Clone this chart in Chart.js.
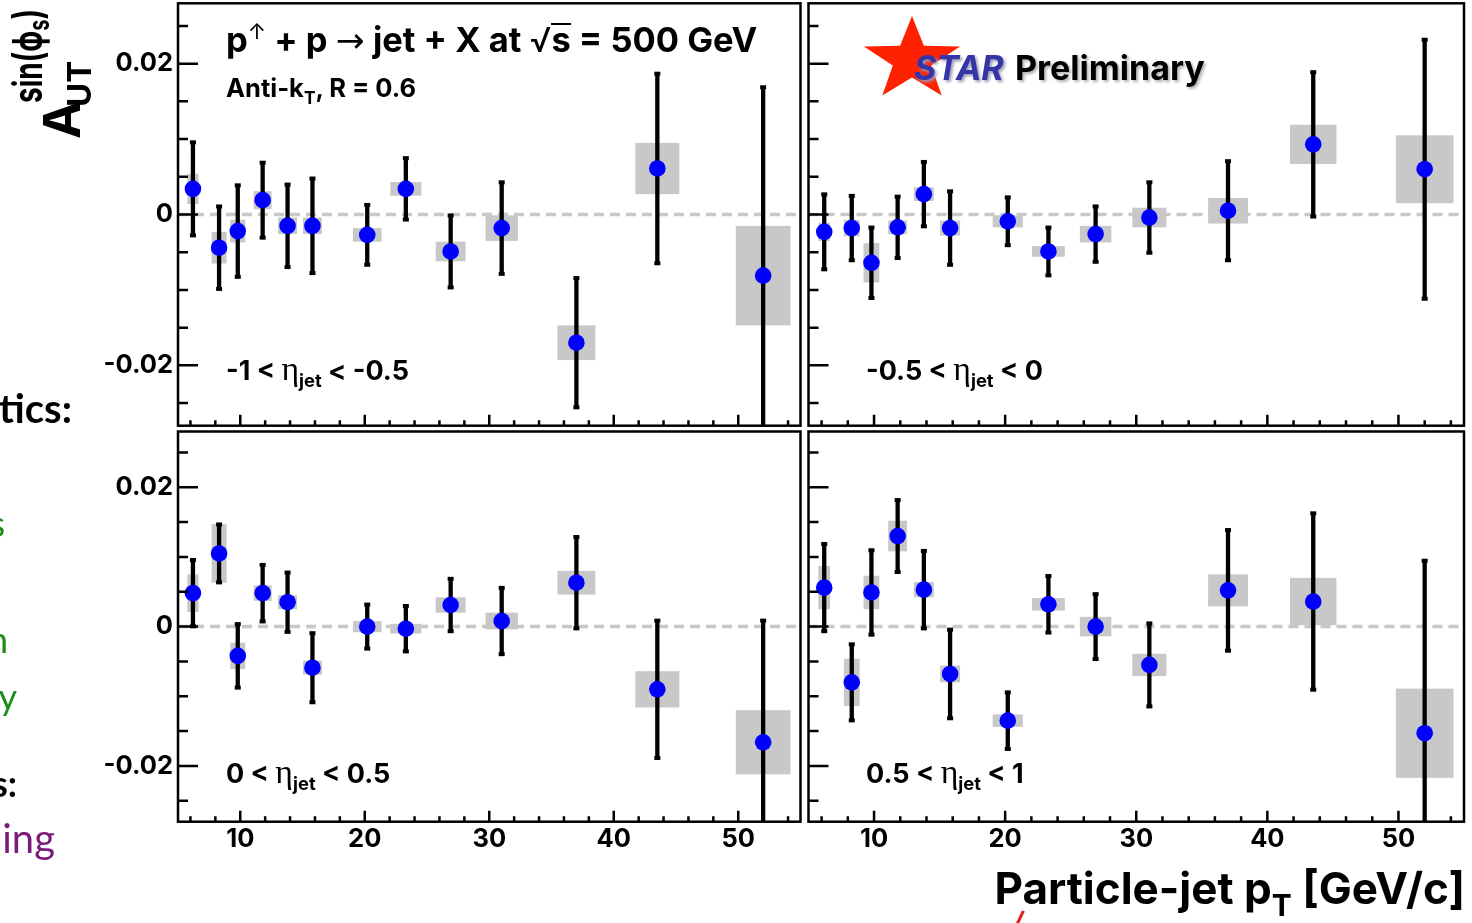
<!DOCTYPE html>
<html>
<head>
<meta charset="utf-8">
<script src="https://cdn.jsdelivr.net/npm/chart.js@4.4.1/dist/chart.umd.min.js"></script>
<style>
html, body { margin: 0; padding: 0; background: #fff; }
#stage { position: relative; width: 1472px; height: 923px; overflow: hidden; background: #fff; }
canvas { position: absolute; }
.t { position: absolute; white-space: nowrap; line-height: 1; font-family: Inter, "Liberation Sans", sans-serif; font-weight: 700; color: #000; }
.t sub { font-size: 0.68em; vertical-align: -0.4em; line-height: 0; }
.eta { font-family: "Liberation Serif", "DejaVu Serif", serif; font-weight: 400; font-size: 1.25em; }
.frag { position: absolute; white-space: nowrap; line-height: 1; font-family: Lato, "Open Sans", sans-serif; text-align: right; }
#ytitle { position: absolute; left: 0; top: 140px; width: 150px; height: 100px; transform-origin: 0 0; transform: rotate(-90deg); }
#ytitle span.p { position: absolute; white-space: nowrap; line-height: 1; font-family: Inter, "Liberation Sans", sans-serif; font-weight: 700; }
</style>
</head>
<body>
<div id="stage">
  <canvas id="p1"></canvas>
  <canvas id="p2"></canvas>
  <canvas id="p3"></canvas>
  <canvas id="p4"></canvas>

  <div id="ytitle">
    <span class="p" style="font-size:51px; left:1px; top:36px;">A</span>
    <span class="p" style="font-size:33px; left:33px; top:63px;">UT</span>
    <span class="p" style="font-size:28px; left:37px; top:18px; transform-origin:0 24px; transform:scale(1,1.45);">sin(&#981;<sub style="font-size:20px; vertical-align:-5px; line-height:0;">s</sub>)</span>
  </div>

  <div class="t" style="left:226px; top:20px; font-size:34.5px;">p<span style="font-size:22px; font-weight:400; vertical-align:13px;">&uarr;</span> + p <span style="font-weight:400; font-family:'DejaVu Sans';">&rarr;</span> jet + X at <span style="font-weight:400;">&radic;</span><span style="display:inline-block; border-top:2px solid #000; line-height:0.8; padding-top:1px;">s</span> = 500 GeV</div>
  <div class="t" style="left:226px; top:75px; font-size:25.5px;">Anti-k<sub>T</sub>, R = 0.6</div>

  <svg style="position:absolute; left:0; top:0;" width="1472" height="140">
    <polygon id="star" fill="#ff2200"></polygon>
  </svg>
  <div class="t" style="left:914px; top:51px; font-size:34px; font-style:italic; color:#3535a8; text-shadow:2px 2px 3px #9a9ab8;">STAR</div>
  <div class="t" style="left:1015px; top:51px; font-size:34px; text-shadow:2px 2px 3px #b0b0b0;">Preliminary</div>

  <div class="t" style="left:226px; top:352px; font-size:27px;">-1 &lt; <span class="eta">&eta;</span><sub>jet</sub> &lt; -0.5</div>
  <div class="t" style="left:866px; top:352px; font-size:27px;">-0.5 &lt; <span class="eta">&eta;</span><sub>jet</sub> &lt; 0</div>
  <div class="t" style="left:226px; top:755px; font-size:27px;">0 &lt; <span class="eta">&eta;</span><sub>jet</sub> &lt; 0.5</div>
  <div class="t" style="left:866px; top:755px; font-size:27px;">0.5 &lt; <span class="eta">&eta;</span><sub>jet</sub> &lt; 1</div>

  <div class="t" style="right:7px; top:866px; font-size:44px;">Particle-jet p<sub>T</sub> [GeV/c]</div>

  <div class="frag" style="right:1400px; top:388px; font-size:40px; font-weight:700; color:#000;">tics:</div>
  <div class="frag" style="right:1467px; top:505px; font-size:36px; color:#1c8c1c;">s</div>
  <div class="frag" style="right:1464px; top:621px; font-size:36px; color:#1c8c1c;">n</div>
  <div class="frag" style="right:1455px; top:678px; font-size:36px; color:#1c8c1c;">y</div>
  <div class="frag" style="right:1455px; top:765px; font-size:36px; font-weight:700; color:#000;">s:</div>
  <div class="frag" style="right:1417px; top:818px; font-size:40px; color:#7a1a7a;">ing</div>
  <div style="position:absolute; left:1019px; top:910px; width:2.5px; height:14px; background:#e02020; transform:rotate(25deg);"></div>
</div>

<script>
// bin centres (particle-jet pT, GeV/c) and half widths of the systematic boxes
const ptBins = [6.2, 8.3, 9.8, 11.8, 13.8, 15.8, 20.2, 23.3, 26.9, 31.0, 37.0, 43.5, 52.0];
const binHalf = [0.45, 0.6, 0.6, 0.72, 0.76, 0.76, 1.15, 1.25, 1.2, 1.3, 1.52, 1.77, 2.2];

// -1 < eta < -0.5
const aut1 = [0.0034, -0.0044, -0.0022, 0.0019, -0.0015, -0.0015, -0.0027, 0.0034, -0.0049, -0.0018, -0.0170, 0.0061, -0.0081];
const stat1 = [0.0063, 0.0056, 0.0062, 0.0051, 0.0056, 0.0064, 0.0041, 0.0042, 0.0049, 0.0062, 0.0087, 0.0127, 0.0251];
const sys1 = [0.0020, 0.0021, 0.0015, 0.0012, 0.0011, 0.0011, 0.0009, 0.0009, 0.0013, 0.0017, 0.0023, 0.0034, 0.0066];

// -0.5 < eta < 0
const aut2 = [-0.0023, -0.0018, -0.0064, -0.0017, 0.0027, -0.0018, -0.0009, -0.0049, -0.0026, -0.0004, 0.0005, 0.0093, 0.0060];
const stat2 = [0.0051, 0.0044, 0.0048, 0.0042, 0.0044, 0.0050, 0.0033, 0.0033, 0.0038, 0.0048, 0.0067, 0.0097, 0.0173];
const sys2 = [0.0012, 0.0011, 0.0026, 0.0009, 0.0009, 0.0010, 0.0008, 0.0007, 0.0011, 0.0013, 0.0017, 0.0026, 0.0045];

// 0 < eta < 0.5
const aut3 = [0.0048, 0.0105, -0.0042, 0.0048, 0.0035, -0.0059, 0.0000, -0.0003, 0.0031, 0.0008, 0.0063, -0.0090, -0.0166];
const stat3 = [0.0049, 0.0043, 0.0047, 0.0042, 0.0044, 0.0051, 0.0033, 0.0034, 0.0039, 0.0049, 0.0067, 0.0100, 0.0176];
const sys3 = [0.0027, 0.0042, 0.0019, 0.0011, 0.0010, 0.0010, 0.0008, 0.0007, 0.0011, 0.0012, 0.0017, 0.0026, 0.0046];

// 0.5 < eta < 1
const aut4 = [0.0056, -0.0080, 0.0049, 0.0130, 0.0053, -0.0068, -0.0135, 0.0032, 0.0000, -0.0055, 0.0052, 0.0036, -0.0153];
const stat4 = [0.0064, 0.0056, 0.0062, 0.0053, 0.0057, 0.0065, 0.0042, 0.0042, 0.0048, 0.0061, 0.0088, 0.0128, 0.0249];
const sys4 = [0.0031, 0.0034, 0.0024, 0.0022, 0.0011, 0.0012, 0.0009, 0.0009, 0.0014, 0.0016, 0.0023, 0.0034, 0.0064];

// axes
const xMin = 5, xMax = 55;
const yMin = -0.028, yMax = 0.028;
const xTicks = [6, 8, 10, 12, 14, 16, 18, 20, 22, 24, 26, 28, 30, 32, 34, 36, 38, 40, 42, 44, 46, 48, 50, 52, 54];
const xMajor = [10, 20, 30, 40, 50];
const yTicks = [-0.025, -0.02, -0.015, -0.01, -0.005, 0, 0.005, 0.01, 0.015, 0.02, 0.025];
const yMajor = [-0.02, 0, 0.02];

const isYMajor = v => yMajor.some(m => Math.abs(m - v) < 1e-9);
const tickFont = { family: 'Inter, "Liberation Sans", sans-serif', size: 25.5, weight: 'bold', lineHeight: 1 };

// star polygon (STAR logo)
(function () {
  const cx = 912, cy = 60, ry = 44, rx = 50.6, inner = 0.4;
  const pts = [];
  for (let k = 0; k < 10; k++) {
    const ang = -Math.PI / 2 + k * Math.PI / 5;
    const f = k % 2 ? inner : 1;
    pts.push((cx + Math.cos(ang) * rx * f).toFixed(1) + ',' + (cy + Math.sin(ang) * ry * f).toFixed(1));
  }
  document.getElementById('star').setAttribute('points', pts.join(' '));
})();

function noPad(s) {
  s.paddingLeft = 0; s.paddingRight = 0; s.paddingTop = 0; s.paddingBottom = 0;
}

const panelDecor = {
  id: 'panelDecor',
  beforeDatasetsDraw(chart) {
    const { ctx, chartArea: a, scales: { x, y } } = chart;
    const ds = chart.data.datasets[1];
    ctx.save();
    ctx.beginPath();
    ctx.rect(a.left, a.top, a.width, a.height);
    ctx.clip();
    ctx.fillStyle = '#c8c8c8';
    ptBins.forEach((pt, i) => {
      const v = ds.data[i].y;
      const x0 = x.getPixelForValue(pt - binHalf[i]);
      const x1 = x.getPixelForValue(pt + binHalf[i]);
      const y0 = y.getPixelForValue(v + ds.sysErr[i]);
      const y1 = y.getPixelForValue(v - ds.sysErr[i]);
      ctx.fillRect(x0, y0, x1 - x0, y1 - y0);
    });
    ctx.restore();
  },
  beforeDatasetDraw(chart, args) {
    if (args.index !== 1) return;
    const { ctx, chartArea: a, scales: { x, y } } = chart;
    const ds = chart.data.datasets[1];
    ctx.save();
    ctx.beginPath();
    ctx.rect(a.left, a.top, a.width, a.height);
    ctx.clip();
    ctx.strokeStyle = '#000';
    ctx.fillStyle = '#000';
    ctx.lineWidth = 4.3;
    ds.data.forEach((p, i) => {
      const px = x.getPixelForValue(p.x);
      const yt = y.getPixelForValue(p.y + ds.statErr[i]);
      const yb = y.getPixelForValue(p.y - ds.statErr[i]);
      ctx.beginPath();
      ctx.moveTo(px, yt);
      ctx.lineTo(px, yb);
      ctx.stroke();
      ctx.fillRect(px - 3, yt - 1, 6, 4);
      ctx.fillRect(px - 3, yb - 3, 6, 4);
    });
    ctx.restore();
  },
  afterDraw(chart) {
    const { ctx, chartArea: a, scales: { x, y } } = chart;
    ctx.save();
    ctx.strokeStyle = '#000';
    ctx.lineWidth = 2.5;
    ctx.beginPath();
    y.ticks.forEach(t => {
      const py = y.getPixelForValue(t.value);
      ctx.moveTo(a.left, py);
      ctx.lineTo(a.left + (isYMajor(t.value) ? 20 : 10), py);
    });
    x.ticks.forEach(t => {
      const px = x.getPixelForValue(t.value);
      ctx.moveTo(px, a.bottom);
      ctx.lineTo(px, a.bottom - (xMajor.includes(t.value) ? 11 : 5.5));
    });
    ctx.stroke();
    ctx.strokeRect(a.left, a.top, a.width, a.height);
    ctx.restore();
  }
};

function makePanel(cfg) {
  const canvas = document.getElementById(cfg.id);
  canvas.width = cfg.w;
  canvas.height = cfg.h;
  canvas.style.left = cfg.left + 'px';
  canvas.style.top = cfg.top + 'px';
  const yW = cfg.area.l - cfg.left;
  const xH = cfg.top + cfg.h - cfg.area.b;

  new Chart(canvas, {
    type: 'scatter',
    data: {
      datasets: [
        {
          type: 'line',
          data: [{ x: xMin, y: 0 }, { x: xMax, y: 0 }],
          borderColor: '#c8c8c8',
          borderWidth: 3.5,
          borderDash: [10, 6],
          pointRadius: 0,
          order: 2
        },
        {
          type: 'scatter',
          data: ptBins.map((pt, i) => ({ x: pt, y: cfg.aut[i] })),
          statErr: cfg.stat,
          sysErr: cfg.sys,
          pointRadius: 8.3,
          pointBackgroundColor: '#0000ff',
          pointBorderColor: '#0000ff',
          pointBorderWidth: 0,
          order: 1
        }
      ]
    },
    options: {
      responsive: false,
      animation: false,
      devicePixelRatio: 1,
      events: [],
      layout: {
        autoPadding: false,
        padding: { left: 0, top: cfg.area.t - cfg.top, right: cfg.left + cfg.w - cfg.area.r, bottom: 0 }
      },
      plugins: { legend: { display: false }, tooltip: { enabled: false } },
      scales: {
        x: {
          type: 'linear', position: 'bottom', min: xMin, max: xMax,
          afterBuildTicks: s => { s.ticks = xTicks.map(v => ({ value: v })); },
          afterFit: s => { s.height = xH; noPad(s); },
          grid: { display: false, drawTicks: false },
          border: { display: false },
          ticks: {
            display: cfg.xLabels, autoSkip: false, maxRotation: 0, padding: 5,
            color: '#000', font: tickFont,
            callback: v => xMajor.includes(v) ? String(v) : ''
          }
        },
        y: {
          type: 'linear', position: 'left', min: yMin, max: yMax,
          afterBuildTicks: s => { s.ticks = yTicks.map(v => ({ value: v })); },
          afterFit: s => { s.width = yW; noPad(s); },
          grid: { display: false, drawTicks: false },
          border: { display: false },
          ticks: {
            display: cfg.yLabels, autoSkip: false, padding: 5,
            color: '#000', font: tickFont,
            callback: v => isYMajor(v) ? (Math.abs(v) < 1e-9 ? '0' : v.toFixed(2)) : ''
          }
        }
      }
    },
    plugins: [panelDecor]
  });
}

makePanel({ id: 'p1', left: 0, top: 0, w: 804, h: 429, area: { l: 178, t: 3.3, r: 800.5, b: 425.7 },
  xLabels: false, yLabels: true, aut: aut1, stat: stat1, sys: sys1 });
makePanel({ id: 'p2', left: 804, top: 0, w: 668, h: 429, area: { l: 808.5, t: 3.3, r: 1464, b: 425.7 },
  xLabels: false, yLabels: false, aut: aut2, stat: stat2, sys: sys2 });
makePanel({ id: 'p3', left: 0, top: 429, w: 804, h: 440, area: { l: 178, t: 431.5, r: 800.5, b: 821.7 },
  xLabels: true, yLabels: true, aut: aut3, stat: stat3, sys: sys3 });
makePanel({ id: 'p4', left: 804, top: 429, w: 668, h: 440, area: { l: 808.5, t: 431.5, r: 1464, b: 821.7 },
  xLabels: true, yLabels: false, aut: aut4, stat: stat4, sys: sys4 });
</script>
</body>
</html>
